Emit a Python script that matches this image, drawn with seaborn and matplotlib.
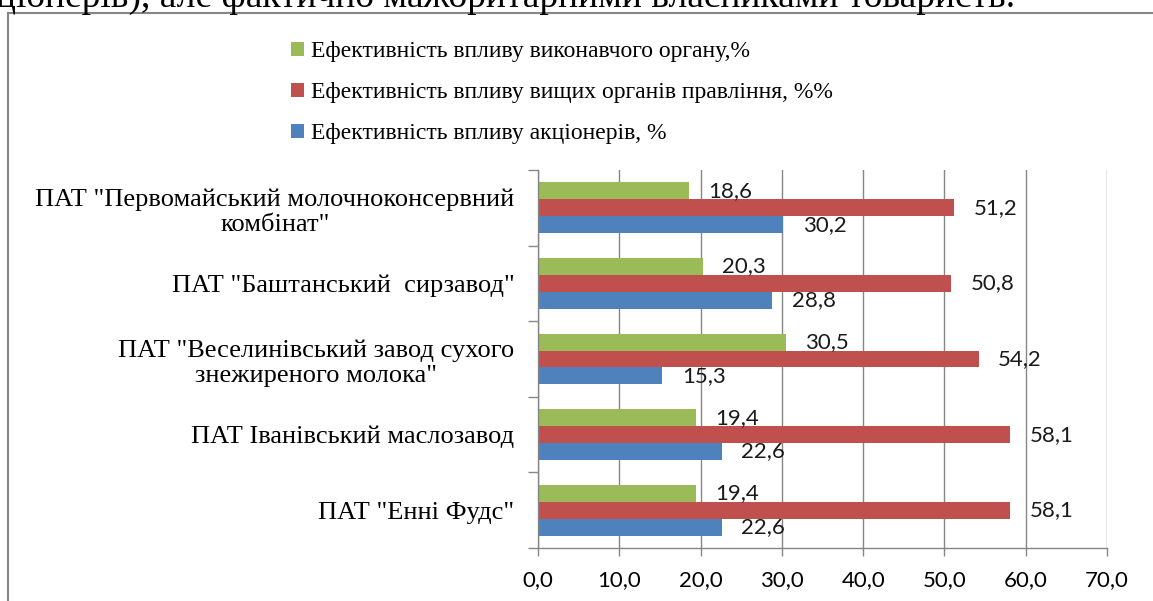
import pandas as pd
import seaborn as sns
import matplotlib.pyplot as plt
from matplotlib.lines import Line2D
from matplotlib.ticker import MultipleLocator, FixedLocator

# Data
companies = [
    'ПАТ "Первомайський молочноконсервний\nкомбінат"',
    'ПАТ "Баштанський  сирзавод"',
    'ПАТ "Веселинівський завод сухого\nзнежиреного молока"',
    'ПАТ Іванівський маслозавод',
    'ПАТ "Енні Фудс"',
]
executive = [18.6, 20.3, 30.5, 19.4, 19.4]
governing = [51.2, 50.8, 54.2, 58.1, 58.1]
shareholders = [30.2, 28.8, 15.3, 22.6, 22.6]

series_names = [
    'Ефективність впливу виконавчого органу,%',
    'Ефективність впливу вищих органів правління, %%',
    'Ефективність впливу акціонерів, %',
]
colors = ['#9BBB59', '#C0504D', '#4F81BD']
xticks = [0, 10, 20, 30, 40, 50, 60, 70]

# Long format table for seaborn
df = pd.DataFrame({
    'company': companies * 3,
    'series': [series_names[0]] * 5 + [series_names[1]] * 5 + [series_names[2]] * 5,
    'value': executive + governing + shareholders,
})

serif = 'Liberation Serif'
sans = 'Lato'
grey = '#868686'

fig = plt.figure(figsize=(11.53, 6.01), dpi=100)
ax = fig.add_axes([538 / 1153, 1 - 548 / 601, (1107 - 538) / 1153, (548 - 170) / 601])

sns.barplot(data=df, x='value', y='company', hue='series', hue_order=series_names,
            palette=colors, saturation=1, width=0.67, orient='h', ax=ax)

# Value labels with decimal comma
for cont in ax.containers:
    ax.bar_label(cont, labels=[f'{b.get_width():.1f}'.replace('.', ',') for b in cont],
                 padding=14, fontsize=16, family=sans, color='#1a1a1a')

# Axes styling, Excel-like
ax.set_xlim(0, 70)
ax.xaxis.set_major_locator(FixedLocator(xticks))
ax.set_xticklabels([f'{t:.1f}'.replace('.', ',') for t in xticks], fontsize=16, family=sans)
ax.tick_params(axis='x', length=6, color=grey, pad=10, width=1)
ax.grid(axis='x', color=grey, linewidth=1)
ax.set_axisbelow(True)

ax.set_yticks(range(len(companies)))
ax.set_yticklabels(companies, fontsize=19, family=serif, multialignment='center')
ax.tick_params(axis='y', length=0, pad=17)
ax.yaxis.set_minor_locator(MultipleLocator(1, offset=0.5))
ax.tick_params(axis='y', which='minor', length=7, color=grey, width=1)
ax.set_ylim(len(companies) - 0.5, -0.5)

ax.set_xlabel('')
ax.set_ylabel('')
for s in ['top', 'right']:
    ax.spines[s].set_visible(False)
for s in ['left', 'bottom']:
    ax.spines[s].set_color(grey)
    ax.spines[s].set_linewidth(1)

# Legend at the top of the chart area
handles, labels = ax.get_legend_handles_labels()
ax.get_legend().remove()
fig.legend(handles, labels, loc='upper left', bbox_to_anchor=(270 / 1153, 1 - 20 / 601),
           frameon=False, prop={'family': serif, 'size': 17},
           handlelength=0.55, handleheight=0.55, handletextpad=0.3, labelspacing=0.85)

# Chart area frame (cut off on the right and bottom)
fig.add_artist(Line2D([8 / 1153, 8 / 1153], [0, 1 - 13 / 601], color=grey, lw=1.5))
fig.add_artist(Line2D([8 / 1153, 1], [1 - 13 / 601, 1 - 13 / 601], color=grey, lw=1.5))

# Cropped line of the surrounding document text
fig.text(-4 / 1153, 1 - 7 / 601, 'ціонерів), але фактично мажоритарними власниками товариств.',
         fontsize=27, family=serif, va='baseline', ha='left')

fig.savefig('out.png', dpi=100)
